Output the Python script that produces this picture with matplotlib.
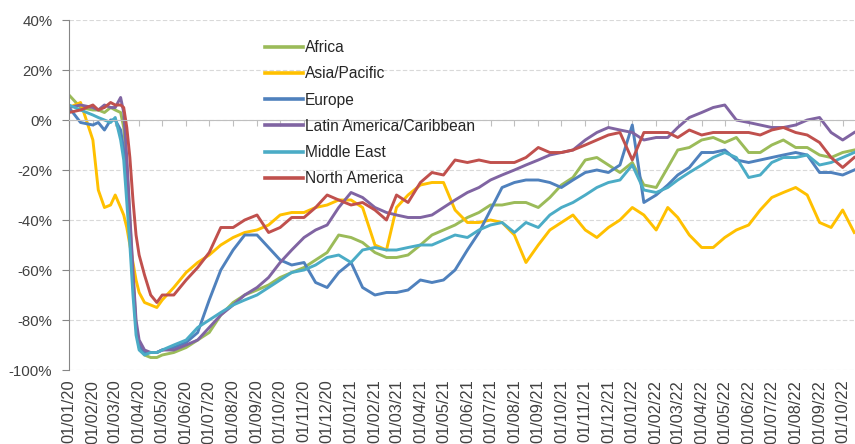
import matplotlib
matplotlib.use('Agg')
import matplotlib.pyplot as plt
import matplotlib.dates as mdates
from matplotlib.ticker import PercentFormatter, MultipleLocator
import pandas as pd

plt.rcParams['font.family'] = ['Liberation Sans', 'DejaVu Sans']
plt.rcParams['axes.unicode_minus'] = False

# observation dates (finer steps around the March 2020 collapse)
dates = [
    '2020-01-01', '2020-01-16', '2020-02-01', '2020-02-08', '2020-02-16', '2020-02-24',
    '2020-03-01', '2020-03-08', '2020-03-12', '2020-03-16', '2020-03-20', '2020-03-24',
    '2020-03-28', '2020-04-01', '2020-04-08', '2020-04-16', '2020-04-24',
    '2020-05-01', '2020-05-16', '2020-06-01', '2020-06-16', '2020-07-01', '2020-07-16',
    '2020-08-01', '2020-08-16', '2020-09-01', '2020-09-16', '2020-10-01', '2020-10-16',
    '2020-11-01', '2020-11-16', '2020-12-01', '2020-12-16',
    '2021-01-01', '2021-01-16', '2021-02-01', '2021-02-16', '2021-03-01', '2021-03-16',
    '2021-04-01', '2021-04-16', '2021-05-01', '2021-05-16', '2021-06-01', '2021-06-16',
    '2021-07-01', '2021-07-16', '2021-08-01', '2021-08-16', '2021-09-01', '2021-09-16',
    '2021-10-01', '2021-10-16', '2021-11-01', '2021-11-16', '2021-12-01', '2021-12-16',
    '2022-01-01', '2022-01-16', '2022-02-01', '2022-02-16', '2022-03-01', '2022-03-16',
    '2022-04-01', '2022-04-16', '2022-05-01', '2022-05-16', '2022-06-01', '2022-06-16',
    '2022-07-01', '2022-07-16', '2022-08-01', '2022-08-16', '2022-09-01', '2022-09-16',
    '2022-10-01', '2022-10-16',
]

# % change vs 2019
africa = [10, 5, 4, 4, 3, 5, 4, 3, -3, -18, -40, -62, -82, -91, -94, -95, -95,
          -94, -93, -91, -88, -85, -78, -73, -70, -68, -66, -63, -61, -59, -56, -53, -46,
          -47, -49, -53, -55, -55, -54, -50, -46, -44, -42, -39, -37, -34, -34, -33, -33,
          -35, -31, -26, -23, -16, -15, -18, -21,
          -17, -26, -27, -19, -12, -11, -8, -7, -9, -7, -13, -13, -10, -8, -11, -11,
          -14, -15, -13, -12]
asia_pacific = [5, 7, -8, -28, -35, -34, -30, -35, -38, -43, -50, -57, -64, -69, -73, -74, -75,
                -72, -67, -61, -57, -54, -50, -47, -45, -44, -42, -38, -37, -37, -35, -34, -32,
                -32, -35, -50, -52, -35, -30, -26, -25, -25, -36, -41, -41, -40, -41, -46, -57,
                -50, -44, -41, -38, -44, -47, -43, -40,
                -35, -38, -44, -35, -39, -46, -51, -51, -47, -44, -42, -36, -31, -29, -27, -30,
                -41, -43, -36, -45]
europe = [5, -1, -2, -1, -4, 0, 0, -4, -12, -27, -45, -65, -83, -90, -93, -93, -93,
          -92, -91, -89, -85, -72, -60, -52, -46, -46, -51, -56, -58, -57, -65, -67, -61,
          -57, -67, -70, -69, -69, -68, -64, -65, -64, -60, -52, -45, -36, -27, -25, -24,
          -24, -25, -27, -24, -21, -20, -21, -18,
          -2, -33, -30, -26, -22, -19, -13, -13, -12, -16, -17, -16, -15, -14, -13, -14,
          -21, -21, -22, -20]
latin_america = [5, 6, 5, 4, 6, 5, 5, 9, 3, -15, -38, -60, -80, -88, -92, -93, -93,
                 -92, -92, -90, -88, -83, -78, -74, -70, -67, -63, -57, -52, -47, -44, -42, -35,
                 -29, -31, -35, -37, -38, -39, -39, -38, -35, -32, -29, -27, -24, -22, -20, -18,
                 -16, -14, -13, -12, -8, -5, -3, -4,
                 -5, -8, -7, -7, -3, 1, 3, 5, 6, 0, -1, -2, -3, -3, -2, 0,
                 1, -5, -8, -5]
middle_east = [6, 4, 2, 1, 0, -1, 1, -8, -16, -33, -50, -70, -86, -92, -94, -93, -93,
               -92, -90, -88, -83, -80, -77, -74, -72, -70, -67, -64, -61, -60, -58, -55, -54,
               -57, -52, -51, -52, -52, -51, -50, -50, -48, -46, -47, -44, -42, -41, -45, -41,
               -43, -38, -35, -33, -30, -27, -25, -24,
               -18, -28, -29, -27, -24, -21, -18, -15, -13, -15, -23, -22, -17, -15, -15, -14,
               -18, -17, -15, -13]
north_america = [3, 4, 6, 4, 5, 7, 6, 6, 5, -3, -15, -32, -46, -54, -62, -70, -73,
                 -70, -70, -64, -59, -53, -43, -43, -40, -38, -45, -43, -39, -39, -35, -30, -32,
                 -34, -33, -36, -40, -30, -33, -25, -21, -22, -16, -17, -16, -17, -17, -17, -15,
                 -11, -13, -13, -12, -10, -8, -6, -5,
                 -16, -5, -5, -5, -7, -4, -6, -5, -5, -5, -5, -6, -4, -3, -5, -6,
                 -9, -15, -19, -15]

regions = ['Africa', 'Asia/Pacific', 'Europe', 'Latin America/Caribbean',
           'Middle East', 'North America']
values = [africa, asia_pacific, europe, latin_america, middle_east, north_america]
colors = ['#9BBB59', '#FFC000', '#4F81BD', '#8064A2', '#4BACC6', '#C0504D']

x = pd.to_datetime(dates)

fig = plt.figure(figsize=(8.55, 4.44), dpi=100)
ax = fig.add_axes([69 / 855, 74 / 444, 786 / 855, 350 / 444])

for name, vals, col in zip(regions, values, colors):
    ax.plot(x, vals, color=col, lw=2.1, label=name, solid_joinstyle='round')

ax.set_ylim(-100, 40)
ax.set_xlim(pd.Timestamp('2020-01-01'), pd.Timestamp('2022-10-17'))
ax.yaxis.set_major_locator(MultipleLocator(20))
ax.yaxis.set_major_formatter(PercentFormatter(decimals=0))
ax.grid(axis='y', ls=(0, (4, 2)), color='#d9d9d9', lw=0.8)
ax.set_axisbelow(True)

for s in ['top', 'right']:
    ax.spines[s].set_visible(False)
ax.spines['left'].set_color('#868686')
ax.spines['bottom'].set_position(('data', 0))
ax.spines['bottom'].set_color('#bfbfbf')

ax.xaxis.set_major_locator(mdates.MonthLocator())
ax.tick_params(axis='x', direction='out', length=4, color='#bfbfbf', labelbottom=False)
ax.tick_params(axis='y', direction='out', length=5, color='#868686',
               labelsize=10.8, labelcolor='#404040', pad=7)

# month labels sit under the plot, not on the 0% axis
sec = ax.secondary_xaxis(0)
sec.xaxis.set_major_locator(mdates.MonthLocator())
sec.xaxis.set_major_formatter(mdates.DateFormatter('%d/%m/%y'))
sec.tick_params(length=0, labelsize=11.8, labelrotation=90, labelcolor='#404040', pad=7)
sec.spines['bottom'].set_visible(False)

leg = ax.legend(loc='upper left', bbox_to_anchor=(0.242, 0.960), frameon=False,
                fontsize=11.2, handlelength=2.4, handletextpad=0.15,
                labelspacing=0.72, borderaxespad=0)
for t in leg.get_texts():
    t.set_color('#262626')
for h in leg.get_lines():
    h.set_linewidth(2.6)

fig.savefig('out.png', dpi=100)
